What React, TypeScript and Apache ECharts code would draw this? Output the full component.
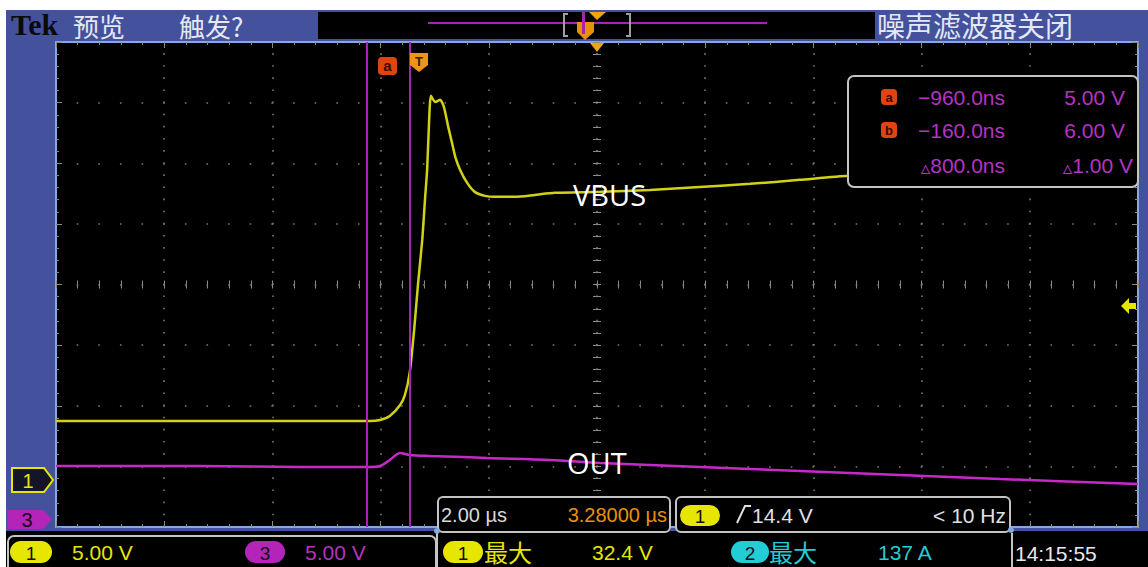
import React, { useEffect, useRef } from "react";
import * as echarts from "echarts";

// ---- data (time in µs relative to trigger, volts) ----
const vbusTime = [-6.7, -4.04, -2.19, -0.9, -0.71, -0.53, -0.34, -0.25, -0.16, -0.08, -0.01, 0.07, 0.12, 0.16, 0.19, 0.23, 0.31, 0.4, 0.47, 0.55, 0.62, 0.68, 0.77, 0.9, 1.04, 1.23, 1.41, 1.78, 2.15, 2.52, 3.36, 4.28, 5.2, 6.13, 7.05, 7.94, 8.9, 10.75, 13.3];
const vbusVolts = [4.94, 4.94, 4.94, 4.94, 5.02, 5.35, 6.26, 7.09, 8.99, 12.45, 16.16, 19.88, 23.18, 25.65, 28.95, 31.76, 31.26, 31.43, 30.85, 29.2, 27.88, 26.73, 25.65, 24.58, 23.84, 23.51, 23.43, 23.43, 23.59, 23.76, 23.84, 24.0, 24.25, 24.5, 24.83, 25.16, 25.32, 25.65, 26.07];
const outTime = [-6.7, -4.04, -2.19, -0.9, -0.71, -0.53, -0.34, -0.16, 0.21, 0.82, 1.27, 2.43, 3.36, 5.2, 7.05, 8.9, 10.75, 13.3];
const outVolts = [5.03, 5.03, 4.95, 4.95, 5.03, 5.53, 6.11, 5.94, 5.86, 5.78, 5.69, 5.53, 5.28, 4.95, 4.62, 4.29, 3.96, 3.55];
const cursorTimes = [-0.96, -0.16];
const timeRange = [-6.7, 13.3];
const ch1Range = [-3.8, 36.2];
const ch3Range = [0, 40];
const measRows = [
  { icon: "a", time: "\u2212960.0ns", volt: "5.00 V" },
  { icon: "b", time: "\u2212160.0ns", volt: "6.00 V" },
];
const deltaTime = "800.0ns";
const deltaVolt = "1.00 V";

const BORDER = "#86a8e0";
const TICK = "#8c8c7c";
const DOT = "#7a7a72";
const YEL = "#e6e600";
const TRACE_Y = "#d2d214";
const MAG = "#c828c8";
const MAG_TXT = "#b533c3";
const CYAN = "#22cdd6";
const ORANGE = "#e8900c";
const GRAY = "#c4c4c4";
const SANS = '"Liberation Sans", Arial, sans-serif';
const CJK = '"Noto Sans CJK SC", sans-serif';

function txt(text: string, x: number, y: number, fill: string, size: number, o: any = {}) {
  const align = o.align || "left";
  return {
    type: "text",
    x,
    y,
    z: 110,
    style: {
      text,
      fill,
      fontSize: size,
      fontFamily: o.family || SANS,
      fontWeight: o.weight || "normal",
      align,
      textAlign: align,
      verticalAlign: "middle",
      textVerticalAlign: "middle",
      rich: o.rich,
    },
  };
}

function pill(x: number, y: number, w: number, h: number, color: string, label: string) {
  return [
    { type: "rect", z: 100, shape: { x, y, width: w, height: h, r: h / 2 }, style: { fill: color } },
    txt(label, x + w / 2, y + h / 2 + 1, "#111", 19, { align: "center" }),
  ];
}

function gridAxis(kind: "x" | "y", position: string, opts: any = {}) {
  const isX = kind === "x";
  return {
    type: "value",
    min: 0,
    max: isX ? 10 : 8,
    interval: 1,
    position,
    offset: opts.offset || 0,
    axisLine: { show: opts.line !== false, onZero: false, lineStyle: { color: BORDER, width: 2 } },
    axisTick: { show: true, inside: opts.inside !== false, length: opts.tickLen || 6, lineStyle: { color: TICK, width: 1 } },
    minorTick: { show: true, splitNumber: 5, length: opts.minorLen || 3, lineStyle: { color: TICK, width: 1 } },
    axisLabel: { show: false },
    splitLine: opts.split
      ? {
          show: true,
          lineStyle: {
            color: DOT,
            width: 1.6,
            type: isX ? [1.6, 10.52] : [1.6, 20.04],
            dashOffset: 0.8,
          },
        }
      : { show: false },
  };
}

export default function App() {
  const ref = useRef<HTMLDivElement>(null);
  useEffect(() => {
    if (!ref.current) return;
    const chart = echarts.init(ref.current, undefined, { renderer: "svg" });

    const graphic: any[] = [];
    // top bar
    graphic.push({ type: "rect", z: 100, shape: { x: 318, y: 12, width: 557, height: 27 }, style: { fill: "#000" } });
    graphic.push({ type: "rect", z: 100, shape: { x: 428, y: 22, width: 339, height: 2 }, style: { fill: "#a424b4" } });
    graphic.push({ type: "polyline", z: 101, shape: { points: [[568, 14], [564, 14], [564, 36], [568, 36]] }, style: { stroke: "#a0a0a0", lineWidth: 2, fill: "none" } });
    graphic.push({ type: "polyline", z: 101, shape: { points: [[626, 14], [630, 14], [630, 36], [626, 36]] }, style: { stroke: "#a0a0a0", lineWidth: 2, fill: "none" } });
    graphic.push({ type: "polygon", z: 101, shape: { points: [[577, 22], [594, 22], [594, 32], [585, 40], [577, 32]] }, style: { fill: ORANGE } });
    graphic.push({ type: "rect", z: 102, shape: { x: 582, y: 12, width: 3, height: 22 }, style: { fill: "#a424b4" } });
    graphic.push({ type: "polygon", z: 102, shape: { points: [[589, 12], [606, 12], [597, 20]] }, style: { fill: "#f0a414" } });
    graphic.push(txt("Tek", 11, 24, "#0a0a0a", 30, { family: '"Liberation Serif", serif', weight: "bold" }));
    graphic.push(txt("预览", 73, 25, "#e4e8f4", 26, { family: CJK }));
    graphic.push(txt("触发?", 179, 25, "#e4e8f4", 26, { family: CJK }));
    graphic.push(txt("噪声滤波器关闭", 877, 25, "#e4e8f4", 28, { family: CJK }));

    // trigger position marker under top border
    graphic.push({ type: "polygon", z: 100, shape: { points: [[590, 43], [604, 43], [597, 52]] }, style: { fill: "#f0a414" } });

    // graticule cursor / trigger markers
    graphic.push({ type: "rect", z: 100, shape: { x: 378, y: 57, width: 19, height: 18, r: 4 }, style: { fill: "#e0440e" } });
    graphic.push(txt("a", 387.5, 65.5, "#3a0a00", 15, { align: "center", weight: "bold" }));
    graphic.push({ type: "polygon", z: 100, shape: { points: [[410, 53], [428, 53], [428, 65], [419, 72], [410, 65]] }, style: { fill: "#f09418" } });
    graphic.push(txt("T", 419, 61, "#3a1a00", 13, { align: "center", weight: "bold" }));

    // measurement box
    graphic.push({ type: "rect", z: 100, shape: { x: 848, y: 76, width: 290, height: 111, r: 6 }, style: { fill: "#000", stroke: GRAY, lineWidth: 2 } });
    measRows.forEach((r, i) => {
      const cy = 97 + i * 33;
      graphic.push({ type: "rect", z: 101, shape: { x: 881, y: cy - 8, width: 16, height: 16, r: 4 }, style: { fill: "#e0440e" } });
      graphic.push(txt(r.icon, 889, cy, "#3a0a00", 13, { align: "center", weight: "bold" }));
      graphic.push(txt(r.time, 1005, cy, MAG_TXT, 21, { align: "right" }));
      graphic.push(txt(r.volt, 1125, cy, MAG_TXT, 21, { align: "right" }));
    });
    const deltaRich = { d: { fontSize: 19, fill: MAG_TXT, fontFamily: '"DejaVu Sans"', padding: [4, 0, 0, 0] } };
    graphic.push(txt("{d|\u25b5}" + deltaTime, 1005, 165, MAG_TXT, 21, { align: "right", rich: deltaRich }));
    graphic.push(txt("{d|\u25b5}" + deltaVolt, 1133, 165, MAG_TXT, 21, { align: "right", rich: deltaRich }));

    // trace labels
    graphic.push(txt("VBUS", 573, 194, "#ffffff", 29, { family: '"Open Sans", sans-serif' }));
    graphic.push(txt("OUT", 567, 462, "#ffffff", 29, { family: '"Open Sans", sans-serif' }));

    // channel markers (left)
    graphic.push({ type: "polygon", z: 100, shape: { points: [[12, 468], [44, 468], [53, 480], [44, 492], [12, 492]] }, style: { fill: "#15152a", stroke: YEL, lineWidth: 2 } });
    graphic.push(txt("1", 28, 481, YEL, 20, { align: "center" }));
    graphic.push({ type: "polygon", z: 100, shape: { points: [[7, 510], [43, 510], [52, 519], [43, 529], [7, 529]] }, style: { fill: "#b424b8" } });
    graphic.push(txt("3", 27, 520, "#1a001a", 20, { align: "center" }));

    // trigger level arrow (right)
    graphic.push({ type: "polygon", z: 100, shape: { points: [[1121, 306], [1129, 298], [1129, 303], [1136, 303], [1136, 309], [1129, 309], [1129, 314]] }, style: { fill: YEL } });

    // bottom black panel
    graphic.push({ type: "rect", z: 99, shape: { x: 6, y: 531, width: 1142, height: 36 }, style: { fill: "#000" } });
    graphic.push({ type: "rect", z: 100, shape: { x: 8, y: 536, width: 428, height: 44, r: 6 }, style: { fill: "#000", stroke: GRAY, lineWidth: 2 } });
    graphic.push({ type: "line", z: 100, shape: { x1: 437, y1: 533, x2: 437, y2: 567 }, style: { stroke: GRAY, lineWidth: 2 } });
    graphic.push({ type: "line", z: 100, shape: { x1: 1012, y1: 533, x2: 1012, y2: 567 }, style: { stroke: GRAY, lineWidth: 2 } });
    graphic.push({ type: "circle", z: 101, shape: { cx: 437, cy: 531, r: 3 }, style: { fill: BORDER } });
    graphic.push({ type: "circle", z: 101, shape: { cx: 1011, cy: 530, r: 3 }, style: { fill: BORDER } });

    // box A (timebase)
    graphic.push({ type: "rect", z: 100, shape: { x: 438, y: 497, width: 232, height: 35, r: 5 }, style: { fill: "#000", stroke: GRAY, lineWidth: 2 } });
    graphic.push(txt("2.00 \u00b5s", 441, 515, "#d8d8d8", 20));
    graphic.push(txt("3.28000 \u00b5s", 667, 515, ORANGE, 20, { align: "right" }));
    // box B (trigger)
    graphic.push({ type: "rect", z: 100, shape: { x: 676, y: 497, width: 334, height: 35, r: 5 }, style: { fill: "#000", stroke: GRAY, lineWidth: 2 } });
    graphic.push(...pill(680, 505, 40, 21, YEL, "1"));
    graphic.push({ type: "polyline", z: 101, shape: { points: [[737, 523], [745, 506], [751, 506]] }, style: { stroke: "#e0e0e0", lineWidth: 2, fill: "none" } });
    graphic.push(txt("14.4 V", 752, 515, "#e0e0e0", 21));
    graphic.push(txt("< 10 Hz", 1006, 515, "#e0e0e0", 21, { align: "right" }));

    // bottom readouts
    graphic.push(...pill(10, 541, 42, 22, YEL, "1"));
    graphic.push(txt("5.00 V", 72, 552, YEL, 21));
    graphic.push(...pill(245, 541, 40, 22, "#b424b8", "3"));
    graphic.push(txt("5.00 V", 305, 552, MAG_TXT, 21));
    graphic.push(...pill(443, 541, 40, 22, YEL, "1"));
    graphic.push(txt("最大", 484, 551, YEL, 24, { family: CJK }));
    graphic.push(txt("32.4 V", 592, 552, YEL, 21));
    graphic.push(...pill(731, 541, 38, 22, CYAN, "2"));
    graphic.push(txt("最大", 769, 551, CYAN, 24, { family: CJK }));
    graphic.push(txt("137 A", 878, 552, CYAN, 21));
    graphic.push(txt("14:15:55", 1015, 553, "#e8e8e8", 21));

    const option: any = {
      animation: false,
      backgroundColor: "transparent",
      grid: { left: 56, top: 42, width: 1082, height: 485, show: true, backgroundColor: "#000", borderWidth: 0, containLabel: false },
      xAxis: [
        gridAxis("x", "bottom", { split: true }),
        gridAxis("x", "top"),
        gridAxis("x", "bottom", { offset: -242.5, line: false, tickLen: 4, minorLen: 4 }),
        gridAxis("x", "bottom", { offset: -242.5, line: false, inside: false, tickLen: 4, minorLen: 4 }),
        { type: "value", min: timeRange[0], max: timeRange[1], show: false },
      ],
      yAxis: [
        gridAxis("y", "left", { split: true }),
        gridAxis("y", "right"),
        gridAxis("y", "left", { offset: -541, line: false, tickLen: 4, minorLen: 4 }),
        gridAxis("y", "left", { offset: -541, line: false, inside: false, tickLen: 4, minorLen: 4 }),
        { type: "value", min: ch1Range[0], max: ch1Range[1], show: false },
        { type: "value", min: ch3Range[0], max: ch3Range[1], show: false },
      ],
      series: [
        {
          name: "OUT",
          type: "line",
          xAxisIndex: 4,
          yAxisIndex: 5,
          data: outTime.map((t, i) => [t, outVolts[i]]),
          showSymbol: false,
          smooth: 0.3,
          lineStyle: { color: MAG, width: 2.5 },
          z: 3,
          markLine: {
            silent: true,
            symbol: ["none", "none"],
            label: { show: false },
            lineStyle: { color: "#a424b4", width: 2, type: "solid" },
            data: cursorTimes.map((t) => ({ xAxis: t })),
          },
        },
        {
          name: "VBUS",
          type: "line",
          xAxisIndex: 4,
          yAxisIndex: 4,
          data: vbusTime.map((t, i) => [t, vbusVolts[i]]),
          showSymbol: false,
          smooth: 0.2,
          lineStyle: { color: TRACE_Y, width: 2.5 },
          z: 4,
        },
      ],
      graphic: { elements: graphic },
    };
    chart.setOption(option);
    return () => chart.dispose();
  }, []);

  return (
    <div style={{ position: "absolute", left: 0, top: 0, width: 1148, height: 567, background: "#ffffff", overflow: "hidden" }}>
      <div style={{ position: "absolute", left: 6, top: 10, right: 0, bottom: 0, background: "#44519c" }} />
      <div ref={ref} style={{ position: "absolute", left: 0, top: 0, width: 1148, height: 567 }} />
    </div>
  );
}
